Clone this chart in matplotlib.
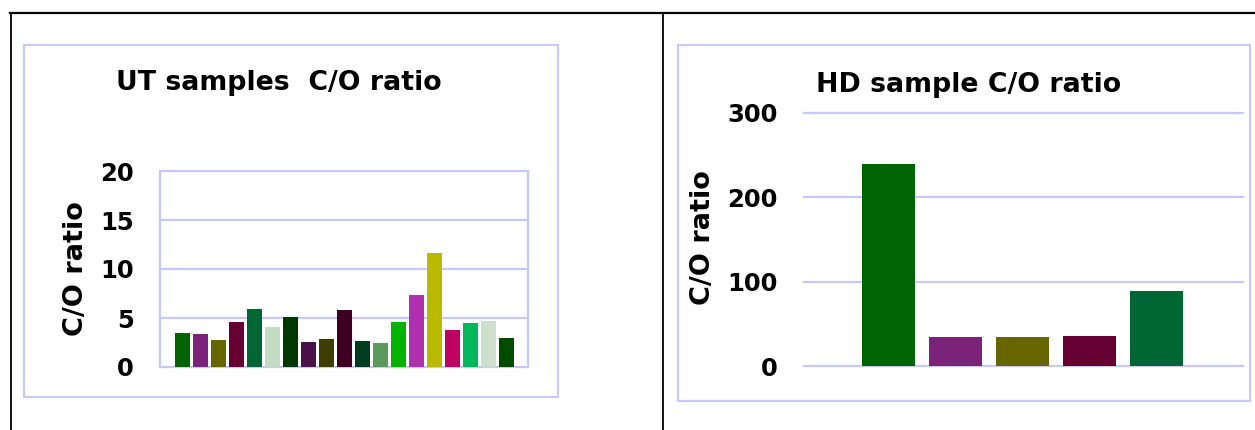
import matplotlib
matplotlib.use("Agg")
import matplotlib.pyplot as plt
from matplotlib.lines import Line2D
from matplotlib.patches import Rectangle

plt.rcParams['font.family'] = ['DejaVu Sans']

# UT samples
ut_values = [3.44, 3.33, 2.72, 4.56, 5.88, 4.05, 5.07, 2.52, 2.82, 5.78,
             2.62, 2.41, 4.56, 7.31, 11.6, 3.74, 4.46, 4.66, 2.93]
ut_colors = ["#006400", "#7b2279", "#666600", "#660033", "#006633", "#c2dbc2",
             "#003800", "#4a1248", "#3d3d00", "#3e0020", "#003c20", "#5c9a5c",
             "#00b400", "#b030b0", "#baba00", "#be0060", "#00b85c", "#cde0cd",
             "#004d00"]
ut_ticks = [0, 5, 10, 15, 20]

# HD sample
hd_values = [240, 34, 34, 35.2, 88.5]
hd_colors = ["#006400", "#7b2279", "#666600", "#660033", "#006633"]
hd_ticks = [0, 100, 200, 300]

W, H = 1255, 430
grid_col = "#c8c8fa"
title_font = dict(fontsize=19.3, fontweight="bold")
ylab_font = dict(fontsize=19.5, fontweight="bold")

fig = plt.figure(figsize=(W / 100, H / 100), dpi=100)


def px(x0, y0, x1, y1):
    # pixel box (top-left origin) -> figure fraction rect
    return [x0 / W, 1 - y1 / H, (x1 - x0) / W, (y1 - y0) / H]


# outer black lines
fig.add_artist(Line2D([10 / W, 1], [1 - 13 / H, 1 - 13 / H], color="black", lw=1.6))
fig.add_artist(Line2D([11 / W, 11 / W], [0, 1 - 13 / H], color="black", lw=1.3))
fig.add_artist(Line2D([663 / W, 663 / W], [0, 1 - 13 / H], color="black", lw=1.3))

# chart frames
for x0, y0, x1, y1 in [(24, 45, 558, 397), (678, 45, 1250, 401)]:
    r = px(x0, y0, x1, y1)
    fig.add_artist(Rectangle((r[0], r[1]), r[2], r[3], transform=fig.transFigure,
                             fill=False, edgecolor=grid_col, lw=1.5))

# left chart
ax1 = fig.add_axes(px(160, 171, 528, 367))
ax1.bar(range(len(ut_values)), ut_values, width=0.83, color=ut_colors, zorder=3)
ax1.set_xlim(-1.25, len(ut_values) - 1 + 1.19)
ax1.set_ylim(0, 20)
for t in ut_ticks:
    ax1.axhline(t, color=grid_col, lw=1.6, zorder=1, clip_on=False)
ax1.set_yticks(ut_ticks)
ax1.set_xticks([])
ax1.tick_params(axis="y", length=0, pad=19)
for lab in ax1.get_yticklabels():
    lab.set_fontsize(17.5)
    lab.set_fontweight("bold")
for s in ["top", "bottom"]:
    ax1.spines[s].set_visible(False)
for s in ["left", "right"]:
    ax1.spines[s].set_color(grid_col)
    ax1.spines[s].set_linewidth(1.6)
fig.text(76 / W, 1 - 269 / H, "C/O ratio", rotation=90, ha="center", va="center", **ylab_font)
fig.text(279 / W, 1 - 82.5 / H, "UT samples  C/O ratio", ha="center", va="center", **title_font)

# right chart
ax2 = fig.add_axes(px(804, 113, 1243, 366))
ax2.bar(range(len(hd_values)), hd_values, width=0.79, color=hd_colors, zorder=3)
ax2.set_xlim(-1.26, len(hd_values) - 1 + 1.29)
ax2.set_ylim(0, 300)
for t in hd_ticks:
    ax2.axhline(t, color=grid_col, lw=1.6, zorder=1, clip_on=False)
ax2.set_yticks(hd_ticks)
ax2.set_xticks([])
ax2.tick_params(axis="y", length=0, pad=19)
for lab in ax2.get_yticklabels():
    lab.set_fontsize(17.5)
    lab.set_fontweight("bold")
for s in ax2.spines.values():
    s.set_visible(False)
fig.text(703 / W, 1 - 238 / H, "C/O ratio", rotation=90, ha="center", va="center", **ylab_font)
fig.text(969 / W, 1 - 84.5 / H, "HD sample C/O ratio", ha="center", va="center", **title_font)

fig.savefig("out.png", dpi=100)
